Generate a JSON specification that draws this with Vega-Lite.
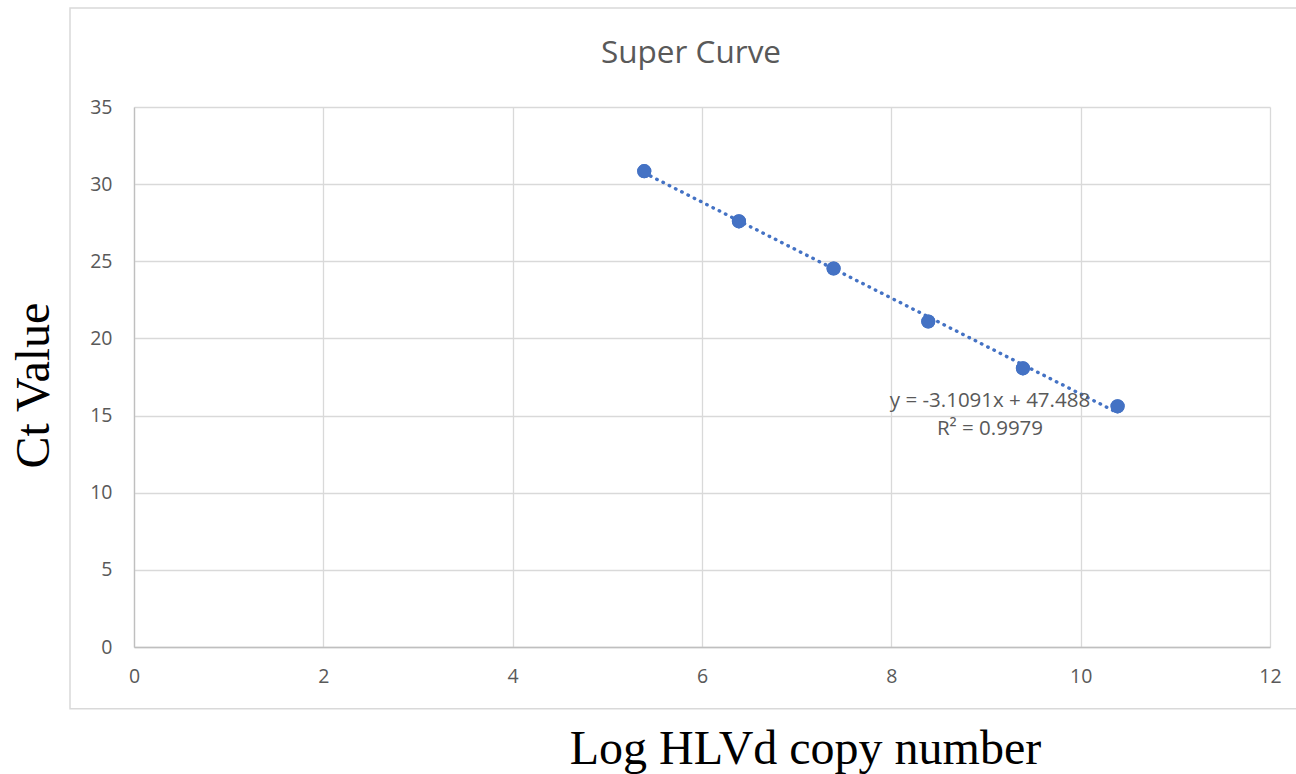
{
  "$schema": "https://vega.github.io/schema/vega-lite/v6.json",
  "autosize": "none",
  "width": 1136,
  "height": 540,
  "padding": {"left": 134, "top": 107, "right": 26, "bottom": 127},
  "background": "white",
  "datasets": {
    "frame": [
      {"x0": -0.676, "x1": 12.35, "y0": -4.0, "y1": 41.42}
    ],
    "heading": [
      {"log_copies": 5.884, "ct": 37.85, "label": "Super Curve"}
    ],
    "standards": [
      {"log_copies": 5.39, "ct": 30.84},
      {"log_copies": 6.39, "ct": 27.59},
      {"log_copies": 7.39, "ct": 24.53},
      {"log_copies": 8.39, "ct": 21.10},
      {"log_copies": 9.39, "ct": 18.06},
      {"log_copies": 10.39, "ct": 15.60}
    ],
    "trend": [
      {"log_copies": 5.39, "ct": 30.730},
      {"log_copies": 10.39, "ct": 15.184}
    ],
    "equation": [
      {"log_copies": 9.042, "ct": 15.56, "label": "y = -3.1091x + 47.488"},
      {"log_copies": 9.042, "ct": 13.74, "label": "R² = 0.9979"}
    ]
  },
  "config": {
    "view": {"stroke": null},
    "axis": {
      "labelFont": "Open Sans",
      "labelFontSize": 19.5,
      "labelColor": "#595959",
      "labelFlush": false,
      "ticks": false,
      "grid": true,
      "gridColor": "#d9d9d9",
      "gridWidth": 1.3,
      "domainColor": "#bfbfbf",
      "domainWidth": 1.3,
      "titleFont": "Liberation Serif",
      "titleFontSize": 48,
      "titleFontWeight": "normal",
      "titleColor": "#000000"
    }
  },
  "layer": [
    {
      "data": {"name": "standards"},
      "mark": {"type": "point", "filled": true, "shape": "circle", "size": 200, "color": "#4472C4", "opacity": 1},
      "encoding": {
        "x": {
          "field": "log_copies",
          "type": "quantitative",
          "scale": {"domain": [0, 12], "nice": false, "zero": false},
          "axis": {
            "values": [0, 2, 4, 6, 8, 10, 12],
            "format": "d",
            "grid": true,
            "labelPadding": 20,
            "title": "Log HLVd copy number",
            "titleX": 671,
            "titleY": 116,
            "titleAlign": "center",
            "titleBaseline": "alphabetic",
            "titleAngle": 0
          }
        },
        "y": {
          "field": "ct",
          "type": "quantitative",
          "scale": {"domain": [0, 35], "nice": false, "zero": false},
          "axis": {
            "values": [0, 5, 10, 15, 20, 25, 30, 35],
            "format": "d",
            "grid": true,
            "labelPadding": 22,
            "title": "Ct Value",
            "titleX": -86,
            "titleY": 278,
            "titleAlign": "center",
            "titleBaseline": "alphabetic",
            "titleAngle": -90
          }
        }
      }
    },
    {
      "data": {"name": "frame"},
      "mark": {"type": "rect", "filled": false, "color": "#d9d9d9", "strokeWidth": 1.5, "clip": false},
      "encoding": {
        "x": {"field": "x0", "type": "quantitative"},
        "x2": {"field": "x1"},
        "y": {"field": "y0", "type": "quantitative"},
        "y2": {"field": "y1"}
      }
    },
    {
      "data": {"name": "heading"},
      "mark": {"type": "text", "font": "Open Sans", "fontSize": 31.5, "color": "#595959", "align": "center", "baseline": "alphabetic", "clip": false},
      "encoding": {
        "x": {"field": "log_copies", "type": "quantitative"},
        "y": {"field": "ct", "type": "quantitative"},
        "text": {"field": "label"}
      }
    },
    {
      "data": {"name": "trend"},
      "mark": {"type": "line", "color": "#4472C4", "strokeWidth": 3.4, "strokeDash": [0.5, 6.5], "strokeCap": "round"},
      "encoding": {
        "x": {"field": "log_copies", "type": "quantitative"},
        "y": {"field": "ct", "type": "quantitative"}
      }
    },
    {
      "data": {"name": "standards"},
      "mark": {"type": "point", "filled": true, "shape": "circle", "size": 200, "color": "#4472C4", "opacity": 1},
      "encoding": {
        "x": {"field": "log_copies", "type": "quantitative"},
        "y": {"field": "ct", "type": "quantitative"}
      }
    },
    {
      "data": {"name": "equation"},
      "mark": {"type": "text", "font": "Open Sans", "fontSize": 20.5, "color": "#595959", "align": "center", "baseline": "alphabetic"},
      "encoding": {
        "x": {"field": "log_copies", "type": "quantitative"},
        "y": {"field": "ct", "type": "quantitative"},
        "text": {"field": "label"}
      }
    }
  ]
}
